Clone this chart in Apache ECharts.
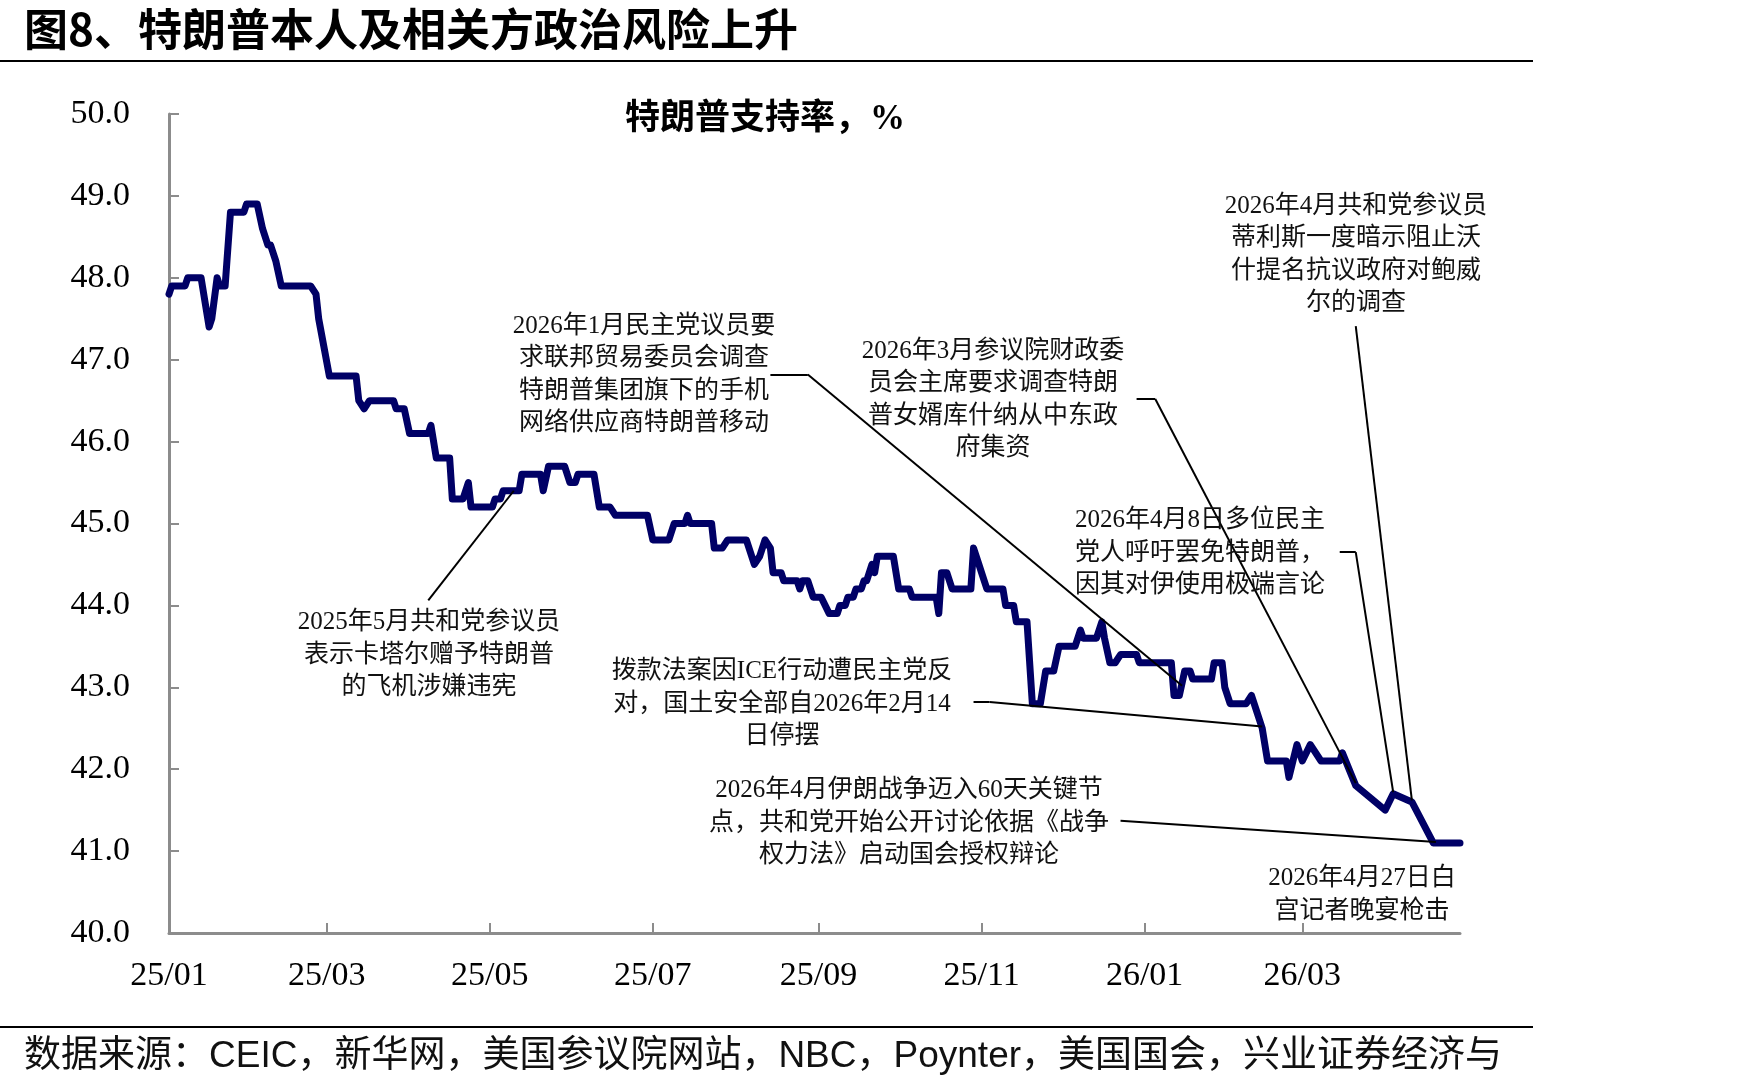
<!DOCTYPE html>
<html>
<head>
<meta charset="utf-8">
<title>特朗普支持率</title>
<script src="https://cdn.jsdelivr.net/npm/echarts@6/dist/echarts.min.js"></script>
<style>
  html, body { margin: 0; padding: 0; background: #fff; }
  #chart { width: 1748px; height: 1089px; }
</style>
</head>
<body>
<div id="chart"></div>
<script>
// 特朗普支持率，% —— 折点
const dates = [
  "2025-01-01", "2025-01-02", "2025-01-07", "2025-01-08", "2025-01-13", "2025-01-16", "2025-01-17",
  "2025-01-19", "2025-01-20", "2025-01-22", "2025-01-24", "2025-01-29", "2025-01-30", "2025-02-03",
  "2025-02-05", "2025-02-07", "2025-02-08", "2025-02-10", "2025-02-12", "2025-02-23", "2025-02-25",
  "2025-02-26", "2025-03-02", "2025-03-12", "2025-03-13", "2025-03-15", "2025-03-17", "2025-03-26",
  "2025-03-27", "2025-03-30", "2025-04-01", "2025-04-08", "2025-04-09", "2025-04-11", "2025-04-16",
  "2025-04-17", "2025-04-21", "2025-04-23", "2025-04-24", "2025-05-02", "2025-05-03", "2025-05-05",
  "2025-05-06", "2025-05-12", "2025-05-13", "2025-05-20", "2025-05-21", "2025-05-23", "2025-05-29",
  "2025-05-31", "2025-06-02", "2025-06-03", "2025-06-09", "2025-06-11", "2025-06-15", "2025-06-17",
  "2025-06-29", "2025-07-01", "2025-07-07", "2025-07-09", "2025-07-13", "2025-07-14", "2025-07-15",
  "2025-07-23", "2025-07-24", "2025-07-27", "2025-07-29", "2025-08-05", "2025-08-08", "2025-08-10",
  "2025-08-12", "2025-08-14", "2025-08-15", "2025-08-18", "2025-08-19", "2025-08-24", "2025-08-25",
  "2025-08-26", "2025-08-28", "2025-08-30", "2025-09-02", "2025-09-05", "2025-09-08", "2025-09-09",
  "2025-09-11", "2025-09-12", "2025-09-14", "2025-09-15", "2025-09-17", "2025-09-18", "2025-09-19",
  "2025-09-20", "2025-09-21", "2025-09-22", "2025-09-23", "2025-09-29",
  "2025-10-01", "2025-10-05", "2025-10-06", "2025-10-15", "2025-10-16", "2025-10-17", "2025-10-19",
  "2025-10-21", "2025-10-28", "2025-10-29", "2025-10-31", "2025-11-01", "2025-11-03", "2025-11-09",
  "2025-11-10", "2025-11-13", "2025-11-14", "2025-11-18", "2025-11-20", "2025-11-23", "2025-11-25",
  "2025-11-28", "2025-11-30", "2025-12-06", "2025-12-08", "2025-12-09", "2025-12-14", "2025-12-16",
  "2025-12-17", "2025-12-19", "2025-12-21", "2025-12-23", "2025-12-29", "2025-12-30", "2026-01-11",
  "2026-01-12", "2026-01-14", "2026-01-16", "2026-01-18", "2026-01-19", "2026-01-26", "2026-01-27",
  "2026-01-30", "2026-01-31", "2026-02-02", "2026-02-08", "2026-02-10", "2026-02-12", "2026-02-14",
  "2026-02-16", "2026-02-23", "2026-02-24", "2026-02-27", "2026-03-01", "2026-03-04", "2026-03-08",
  "2026-03-15", "2026-03-16", "2026-03-21", "2026-04-01", "2026-04-04", "2026-04-11", "2026-04-19",
  "2026-04-29"
];
const approval = [
  47.8, 47.9, 47.9, 48.0, 48.0, 47.4, 47.5,
  48.0, 47.9, 47.9, 48.8, 48.8, 48.9, 48.9,
  48.6, 48.4, 48.4, 48.2, 47.9, 47.9, 47.8,
  47.5, 46.8, 46.8, 46.5, 46.4, 46.5, 46.5,
  46.4, 46.4, 46.1, 46.1, 46.2, 45.8, 45.8,
  45.3, 45.3, 45.5, 45.2, 45.2, 45.3, 45.3,
  45.4, 45.4, 45.6, 45.6, 45.4, 45.7, 45.7,
  45.5, 45.5, 45.6, 45.6, 45.2, 45.2, 45.1,
  45.1, 44.8, 44.8, 45.0, 45.0, 45.1, 45.0,
  45.0, 44.7, 44.7, 44.8, 44.8, 44.5, 44.6,
  44.8, 44.7, 44.4, 44.4, 44.3, 44.3, 44.2,
  44.3, 44.3, 44.1, 44.1, 43.9, 43.9, 44.0,
  44.0, 44.1, 44.1, 44.2, 44.2, 44.3, 44.3,
  44.4, 44.5, 44.4, 44.6, 44.6,
  44.2, 44.2, 44.1, 44.1, 43.9, 44.4, 44.4,
  44.2, 44.2, 44.7, 44.5, 44.4, 44.2, 44.2,
  44.0, 44.0, 43.8, 43.8, 42.8, 42.8, 43.2,
  43.2, 43.5, 43.5, 43.7, 43.6, 43.6, 43.8,
  43.6, 43.3, 43.3, 43.4, 43.4, 43.3, 43.3,
  42.9, 42.9, 43.2, 43.2, 43.1, 43.1, 43.3,
  43.3, 43.0, 42.8, 42.8, 42.9, 42.7, 42.5,
  42.1, 42.1, 41.9, 42.3, 42.1, 42.3, 42.1,
  42.1, 42.2, 41.8, 41.5, 41.7, 41.6, 41.1,
  41.1
];

// 横轴刻度（隔月）
const xTickDates = ["2025-01-01", "2025-03-01", "2025-05-01", "2025-07-01",
  "2025-09-01", "2025-11-01", "2026-01-01", "2026-03-01"];
const xStart = "2025-01-01";
const xEnd = "2026-04-29";
const yMin = 40, yMax = 50, yStep = 1;

// 事件标注：引线折点（日期，支持率）
const leaders = [
  [["2025-04-08", 44.06], ["2025-05-10", 45.40]],
  [["2025-08-14", 46.82], ["2025-08-28", 46.82], ["2026-01-15", 43.02]],
  [["2025-12-29", 46.52], ["2026-01-05", 46.52], ["2026-03-21", 41.83]],
  [["2026-03-15", 44.65], ["2026-03-21", 44.65], ["2026-04-04", 41.72]],
  [["2026-03-21", 47.41], ["2026-04-11", 41.62]],
  [["2025-10-29", 42.82], ["2025-11-04", 42.82], ["2026-02-14", 42.52]],
  [["2025-12-23", 41.37], ["2026-04-20", 41.11]]
];
const noteTexts = [
  "2025年5月共和党参议员\n表示卡塔尔赠予特朗普\n的飞机涉嫌违宪",
  "2026年1月民主党议员要\n求联邦贸易委员会调查\n特朗普集团旗下的手机\n网络供应商特朗普移动",
  "2026年3月参议院财政委\n员会主席要求调查特朗\n普女婿库什纳从中东政\n府集资",
  "2026年4月8日多位民主\n党人呼吁罢免特朗普，\n因其对伊使用极端言论",
  "2026年4月共和党参议员\n蒂利斯一度暗示阻止沃\n什提名抗议政府对鲍威\n尔的调查",
  "拨款法案因ICE行动遭民主党反\n对，国土安全部自2026年2月14\n日停摆",
  "2026年4月伊朗战争迈入60天关键节\n点，共和党开始公开讨论依据《战争\n权力法》启动国会授权辩论",
  "2026年4月27日白\n宫记者晚宴枪击"
];

function ts(s) {
  const p = s.split("-").map(Number);
  return new Date(p[0], p[1] - 1, p[2]).getTime();
}
function fmtMonth(v) {
  const d = new Date(v);
  return String(d.getFullYear()).slice(2) + "/" + String(d.getMonth() + 1).padStart(2, "0");
}

const serif = "'Liberation Serif', 'Noto Sans CJK SC', serif";
const sans = "'Liberation Sans', 'Noto Sans CJK SC', sans-serif";
const axisGray = "#8c8c8c";
const lineColor = "#000066";

const seriesData = dates.map((d, i) => [ts(d), approval[i]]);
const xTicks = xTickDates.map(ts);

// 引线拆成两点一段
const leaderSegs = [];
leaders.forEach(pts => {
  for (let i = 0; i < pts.length - 1; i++) {
    leaderSegs.push([
      { coord: [ts(pts[i][0]), pts[i][1]] },
      { coord: [ts(pts[i + 1][0]), pts[i + 1][1]] }
    ]);
  }
});

// 标注文字中心位置（像素）
const notePos = [
  [429, 655], [644, 375], [993, 400], [1200, 553],
  [1356, 255], [782, 704], [909, 823], [1362, 895]
];

const graphics = [
  {
    type: "text", x: 24, y: 29,
    style: { text: "图8、特朗普本人及相关方政治风险上升", font: "bold 44px 'Noto Sans CJK SC'",
      fill: "#000", align: "left", verticalAlign: "middle" }
  },
  { type: "line", shape: { x1: 0, y1: 61, x2: 1533, y2: 61 }, style: { stroke: "#000", lineWidth: 2 } },
  { type: "line", shape: { x1: 0, y1: 1027, x2: 1533, y2: 1027 }, style: { stroke: "#000", lineWidth: 2 } },
  {
    type: "text", x: 24, y: 1057,
    style: { text: "数据来源：CEIC，新华网，美国参议院网站，NBC，Poynter，美国国会，兴业证券经济与",
      font: "37px " + sans, fill: "#111", align: "left", verticalAlign: "middle" }
  },
  {
    type: "text", x: 765, y: 120,
    style: { text: "特朗普支持率，%", font: "bold 35px " + serif, fill: "#000",
      align: "center", verticalAlign: "middle" }
  }
];
noteTexts.forEach((t, i) => {
  graphics.push({
    type: "text", x: notePos[i][0], y: notePos[i][1], z: 10,
    style: { text: t, font: "25px " + serif, fill: "#111", lineHeight: 32.3,
      align: "center", verticalAlign: "middle" }
  });
});

const chart = echarts.init(document.getElementById("chart"), null, { renderer: "canvas" });
chart.setOption({
  animation: false,
  backgroundColor: "#fff",
  grid: { left: 169, right: 288, top: 114, bottom: 156, containLabel: false },
  xAxis: {
    type: "value",
    min: ts(xStart),
    max: ts(xEnd),
    axisLine: { show: true, lineStyle: { color: axisGray, width: 3 } },
    axisTick: { show: true, inside: true, length: 10, lineStyle: { color: axisGray, width: 2 },
      customValues: xTicks },
    axisLabel: {
      customValues: xTicks,
      formatter: v => fmtMonth(v),
      fontFamily: serif, fontSize: 34, color: "#000", margin: 26
    },
    splitLine: { show: false }
  },
  yAxis: {
    type: "value",
    min: yMin, max: yMax, interval: yStep,
    axisLine: { show: true, lineStyle: { color: axisGray, width: 3 } },
    axisTick: { show: true, inside: true, length: 10, lineStyle: { color: axisGray, width: 2 } },
    axisLabel: { formatter: v => v.toFixed(1), fontFamily: serif, fontSize: 34, color: "#000", margin: 39 },
    splitLine: { show: false }
  },
  series: [
    {
      name: "特朗普支持率",
      type: "line",
      data: seriesData,
      symbol: "none",
      lineStyle: { color: lineColor, width: 7, join: "round", cap: "round" },
      itemStyle: { color: lineColor },
      z: 3,
      markLine: {
        silent: true,
        symbol: ["none", "none"],
        label: { show: false },
        lineStyle: { color: "#000", width: 2, type: "solid" },
        emphasis: { disabled: true },
        animation: false,
        data: leaderSegs
      }
    }
  ],
  graphic: graphics
});
</script>
</body>
</html>
